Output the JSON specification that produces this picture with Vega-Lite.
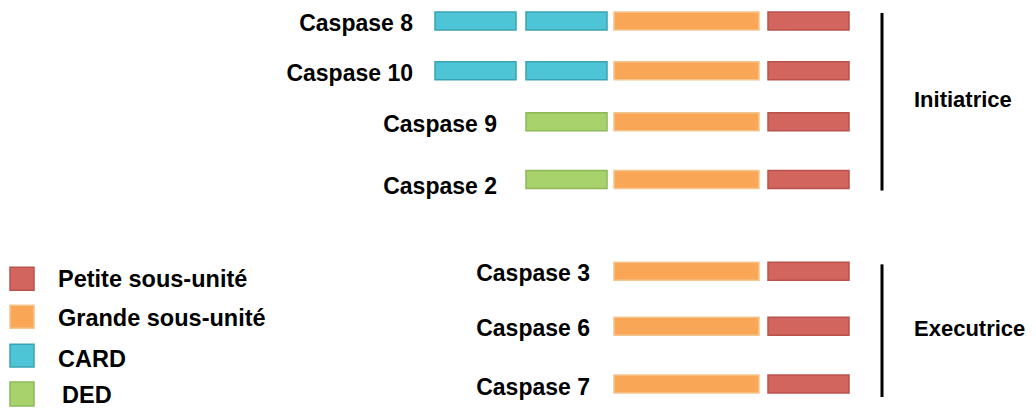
{
  "$schema": "https://vega.github.io/schema/vega-lite/v6.json",
  "width": 1036,
  "height": 408,
  "autosize": {"type": "fit", "contains": "padding"},
  "padding": 0,
  "background": "white",
  "config": {"view": {"stroke": null}},
  "datasets": {
    "segments": [
      {"caspase": "Caspase 8", "domaine": "CARD", "start": 435, "end": 516, "top": 12, "bottom": 30},
      {"caspase": "Caspase 8", "domaine": "CARD", "start": 526, "end": 607, "top": 12, "bottom": 30},
      {"caspase": "Caspase 8", "domaine": "Grande sous-unité", "start": 614, "end": 759, "top": 12, "bottom": 30},
      {"caspase": "Caspase 8", "domaine": "Petite sous-unité", "start": 768, "end": 849, "top": 12, "bottom": 30},
      {"caspase": "Caspase 10", "domaine": "CARD", "start": 435, "end": 516, "top": 62, "bottom": 80},
      {"caspase": "Caspase 10", "domaine": "CARD", "start": 526, "end": 607, "top": 62, "bottom": 80},
      {"caspase": "Caspase 10", "domaine": "Grande sous-unité", "start": 614, "end": 759, "top": 62, "bottom": 80},
      {"caspase": "Caspase 10", "domaine": "Petite sous-unité", "start": 768, "end": 849, "top": 62, "bottom": 80},
      {"caspase": "Caspase 9", "domaine": "DED", "start": 526, "end": 607, "top": 113, "bottom": 131},
      {"caspase": "Caspase 9", "domaine": "Grande sous-unité", "start": 614, "end": 759, "top": 113, "bottom": 131},
      {"caspase": "Caspase 9", "domaine": "Petite sous-unité", "start": 768, "end": 849, "top": 113, "bottom": 131},
      {"caspase": "Caspase 2", "domaine": "DED", "start": 526, "end": 607, "top": 171, "bottom": 189},
      {"caspase": "Caspase 2", "domaine": "Grande sous-unité", "start": 614, "end": 759, "top": 171, "bottom": 189},
      {"caspase": "Caspase 2", "domaine": "Petite sous-unité", "start": 768, "end": 849, "top": 171, "bottom": 189},
      {"caspase": "Caspase 3", "domaine": "Grande sous-unité", "start": 614, "end": 759, "top": 263, "bottom": 281},
      {"caspase": "Caspase 3", "domaine": "Petite sous-unité", "start": 768, "end": 849, "top": 263, "bottom": 281},
      {"caspase": "Caspase 6", "domaine": "Grande sous-unité", "start": 614, "end": 759, "top": 318, "bottom": 336},
      {"caspase": "Caspase 6", "domaine": "Petite sous-unité", "start": 768, "end": 849, "top": 318, "bottom": 336},
      {"caspase": "Caspase 7", "domaine": "Grande sous-unité", "start": 614, "end": 759, "top": 376, "bottom": 394},
      {"caspase": "Caspase 7", "domaine": "Petite sous-unité", "start": 768, "end": 849, "top": 376, "bottom": 394}
    ],
    "labels": [
      {"caspase": "Caspase 8", "right": 413, "baseline": 31},
      {"caspase": "Caspase 10", "right": 413, "baseline": 81},
      {"caspase": "Caspase 9", "right": 497, "baseline": 132},
      {"caspase": "Caspase 2", "right": 497, "baseline": 194},
      {"caspase": "Caspase 3", "right": 590, "baseline": 282},
      {"caspase": "Caspase 6", "right": 590, "baseline": 337},
      {"caspase": "Caspase 7", "right": 590, "baseline": 396}
    ],
    "groups": [
      {"groupe": "Initiatrice", "line": 882, "top": 13, "bottom": 191, "textx": 914, "baseline": 107},
      {"groupe": "Executrice", "line": 882, "top": 265, "bottom": 398, "textx": 914, "baseline": 337}
    ],
    "legend": [
      {"domaine": "Petite sous-unité", "left": 10, "right": 34, "top": 268, "bottom": 291, "textx": 58, "baseline": 288},
      {"domaine": "Grande sous-unité", "left": 10, "right": 34, "top": 306, "bottom": 329, "textx": 58, "baseline": 327},
      {"domaine": "CARD", "left": 10, "right": 34, "top": 345, "bottom": 368, "textx": 58, "baseline": 368},
      {"domaine": "DED", "left": 10, "right": 34, "top": 383, "bottom": 407, "textx": 62, "baseline": 404}
    ]
  },
  "layer": [
    {
      "data": {"name": "segments"},
      "mark": {"type": "rect", "strokeWidth": 1.5},
      "encoding": {
        "x": {"field": "start", "type": "quantitative", "scale": {"domain": [0, 1036], "nice": false, "zero": false}, "axis": null},
        "x2": {"field": "end"},
        "y": {"field": "top", "type": "quantitative", "scale": {"domain": [0, 408], "nice": false, "zero": false, "reverse": true}, "axis": null},
        "y2": {"field": "bottom"},
        "fill": {"field": "domaine", "type": "nominal", "legend": null,
          "scale": {"domain": ["Petite sous-unité", "Grande sous-unité", "CARD", "DED"], "range": ["#D3655F", "#F9A756", "#4EC4D7", "#A8D26C"]}},
        "stroke": {"field": "domaine", "type": "nominal", "legend": null,
          "scale": {"domain": ["Petite sous-unité", "Grande sous-unité", "CARD", "DED"], "range": ["#B9524D", "#F3C58F", "#3AA3B3", "#8EB857"]}}
      }
    },
    {
      "data": {"name": "legend"},
      "mark": {"type": "rect", "strokeWidth": 1.5},
      "encoding": {
        "x": {"field": "left", "type": "quantitative"},
        "x2": {"field": "right"},
        "y": {"field": "top", "type": "quantitative"},
        "y2": {"field": "bottom"},
        "fill": {"field": "domaine", "type": "nominal", "legend": null},
        "stroke": {"field": "domaine", "type": "nominal", "legend": null}
      }
    },
    {
      "data": {"name": "legend"},
      "mark": {"type": "text", "align": "left", "baseline": "alphabetic", "font": "Liberation Sans", "fontWeight": "bold", "fontSize": 23.5, "color": "#000000"},
      "encoding": {
        "x": {"field": "textx", "type": "quantitative"},
        "y": {"field": "baseline", "type": "quantitative"},
        "text": {"field": "domaine"}
      }
    },
    {
      "data": {"name": "labels"},
      "mark": {"type": "text", "align": "right", "baseline": "alphabetic", "font": "Liberation Sans", "fontWeight": "bold", "fontSize": 23, "color": "#000000"},
      "encoding": {
        "x": {"field": "right", "type": "quantitative"},
        "y": {"field": "baseline", "type": "quantitative"},
        "text": {"field": "caspase"}
      }
    },
    {
      "data": {"name": "groups"},
      "mark": {"type": "rule", "strokeWidth": 3, "color": "#000000"},
      "encoding": {
        "x": {"field": "line", "type": "quantitative"},
        "y": {"field": "top", "type": "quantitative"},
        "y2": {"field": "bottom"}
      }
    },
    {
      "data": {"name": "groups"},
      "mark": {"type": "text", "align": "left", "baseline": "alphabetic", "font": "Liberation Sans", "fontWeight": "bold", "fontSize": 22, "color": "#000000"},
      "encoding": {
        "x": {"field": "textx", "type": "quantitative"},
        "y": {"field": "baseline", "type": "quantitative"},
        "text": {"field": "groupe"}
      }
    }
  ]
}
